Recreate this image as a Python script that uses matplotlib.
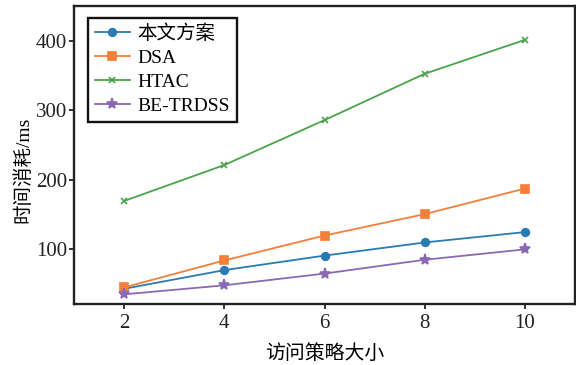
import matplotlib
matplotlib.use("Agg")
import matplotlib.pyplot as plt

plt.rcParams['font.family'] = ['Liberation Serif', 'Noto Sans CJK SC']
plt.rcParams['mathtext.fontset'] = 'stix'

policy_sizes = [2, 4, 6, 8, 10]
ours = [42, 69, 90, 109, 124]
dsa = [44, 83, 119, 150, 187]
htac = [169, 221, 286, 353, 402]
be_trdss = [34, 47, 64, 84, 99]

series_names = ['本文方案', 'DSA', 'HTAC', 'BE-TRDSS']
x_ticks = [2, 4, 6, 8, 10]
y_ticks = [100, 200, 300, 400]

fig = plt.figure(figsize=(5.76, 3.65), dpi=100)
ax = fig.add_axes([74 / 576, 1 - 304 / 365, 501 / 576, 298 / 365])

colors = ['#2a7ab4', '#f47f3a', '#4aa44a', '#8a68b4']
markers = ['o', 's', 'x', '*']
sizes = [5.5, 6, 5, 8]
for vals, name, c, m, s in zip([ours, dsa, htac, be_trdss], series_names, colors, markers, sizes):
    ax.plot(policy_sizes, vals, color=c, marker=m, markersize=s, linewidth=1.3,
            markeredgewidth=1.2, label=name)

ax.set_xlim(1, 11)
ax.set_ylim(20, 451)
ax.set_xticks(x_ticks)
ax.set_yticks(y_ticks)
ax.tick_params(direction='out', length=3.5, width=1.3, labelsize=15, colors='#222222')
ax.tick_params(axis='y', pad=1.5)
ax.tick_params(axis='x', pad=4)
for sp in ax.spines.values():
    sp.set_linewidth(1.7)
    sp.set_color('#222222')

ax.set_xlabel('访问策略大小', fontsize=14.3, labelpad=8)
ax.set_ylabel('时间消耗/ms', fontsize=14)
ax.yaxis.set_label_coords(-0.083, 0.45)

leg = ax.legend(loc='upper left', fontsize=14, fancybox=False, edgecolor='#111111',
                framealpha=1, borderpad=0.35, labelspacing=0.32, handlelength=1.8,
                handletextpad=0.4, borderaxespad=0, bbox_to_anchor=(0.028, 0.96))
leg.get_frame().set_linewidth(1.7)

fig.savefig('out.png', dpi=100)
